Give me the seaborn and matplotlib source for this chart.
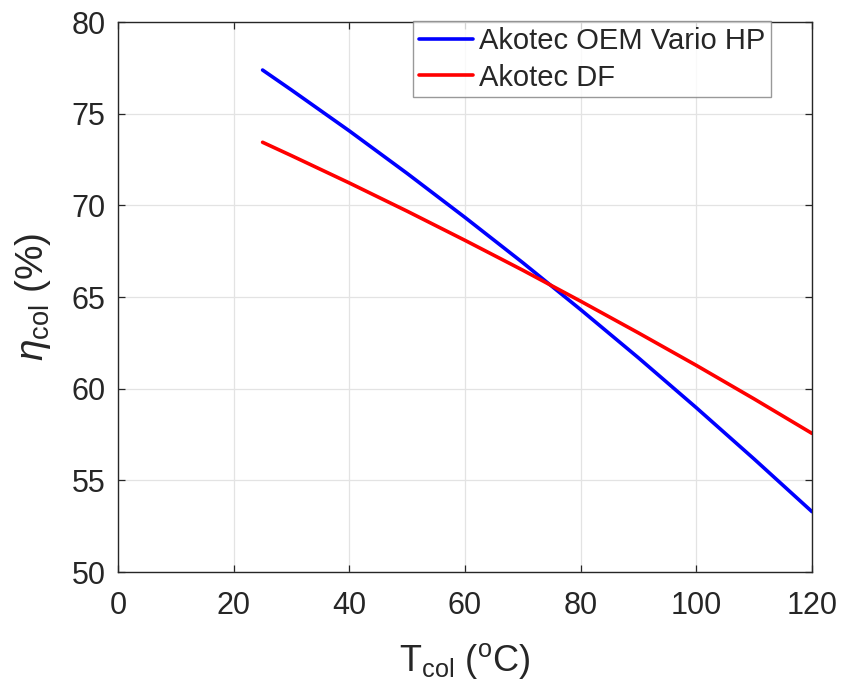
import numpy as np
import pandas as pd
import matplotlib
matplotlib.use("Agg")
import matplotlib.pyplot as plt
import seaborn as sns

# Data
t_col = [25, 30, 40, 50, 60, 70, 80, 90, 100, 110, 120]
eta_vario = [77.38, 76.29, 74.06, 71.74, 69.34, 66.87, 64.31, 61.68, 58.96, 56.16, 53.29]
eta_df = [73.44, 72.71, 71.22, 69.68, 68.09, 66.46, 64.77, 63.04, 61.27, 59.44, 57.56]
series_names = ["Akotec OEM Vario HP", "Akotec DF"]
series_colors = ["#0000FF", "#FF0000"]
x_ticks = [0, 20, 40, 60, 80, 100, 120]
y_ticks = [50, 55, 60, 65, 70, 75, 80]

df = pd.DataFrame({
    "T": t_col * 2,
    "eta": eta_vario + eta_df,
    "series": [series_names[0]] * len(t_col) + [series_names[1]] * len(t_col),
})

sns.set_theme(style="whitegrid")
plt.rcParams["font.family"] = ["Liberation Sans", "DejaVu Sans"]
plt.rcParams["mathtext.fontset"] = "custom"
plt.rcParams["mathtext.rm"] = "Liberation Sans"
plt.rcParams["mathtext.it"] = "Liberation Sans:italic"

fig = plt.figure(figsize=(8.43, 6.90), dpi=100)
ax = fig.add_axes([118 / 843, 1 - 572 / 690, (812 - 118) / 843, (572 - 22) / 690])

sns.lineplot(data=df, x="T", y="eta", hue="series", hue_order=series_names,
             palette=series_colors, linewidth=2.6, ax=ax, legend=False)

ax.set_xlim(0, 120)
ax.set_ylim(50, 80)
ax.set_xticks(x_ticks)
ax.set_yticks(y_ticks)
ax.set_facecolor("white")
ax.grid(True, color="#E3E3E3", linewidth=0.9)
for s in ax.spines.values():
    s.set_visible(True)
    s.set_color("#262626")
    s.set_linewidth(1.0)
ax.tick_params(direction="in", length=5, width=0.9, color="#262626",
               labelsize=22, labelcolor="#262626", top=True, right=True,
               bottom=True, left=True)
ax.tick_params(axis="x", pad=14)
ax.tick_params(axis="y", pad=9)

ax.set_xlabel(r"T$_{\rm col}$ ($^{\rm o}$C)", fontsize=26, color="#262626", labelpad=14)
ax.set_ylabel(r"$\eta_{\rm col}$ (%)", fontsize=28, color="#262626", labelpad=13)

handles = [plt.Line2D([], [], color=c, linewidth=2.6) for c in series_colors]
leg = ax.legend(handles, series_names, loc="upper right", fontsize=21,
                frameon=True, fancybox=False, edgecolor="#808080",
                handlelength=1.86, handletextpad=0.2, borderpad=0.2,
                labelspacing=0.3, borderaxespad=0.0,
                bbox_to_anchor=(771 / 843, 1 - 21 / 690), bbox_transform=fig.transFigure)
leg.get_frame().set_linewidth(1.0)

fig.savefig("out.png", dpi=100)
